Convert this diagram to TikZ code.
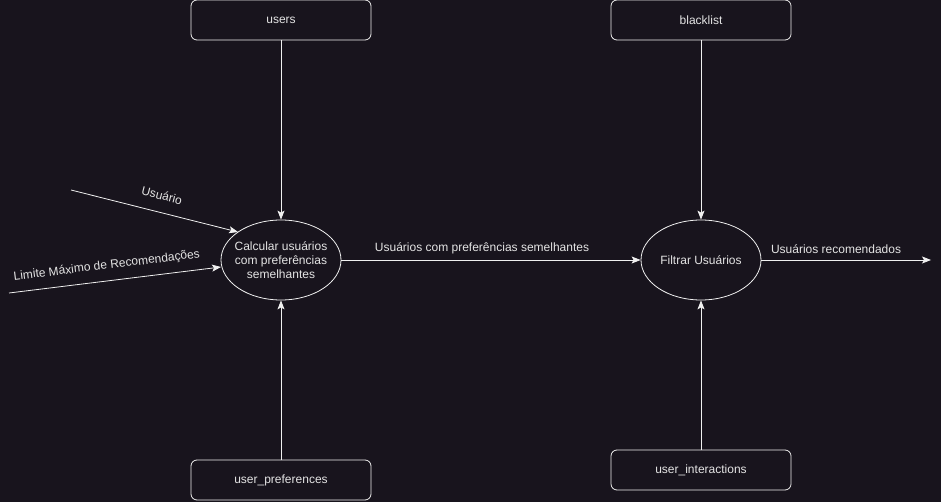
\documentclass[tikz,border=0pt]{standalone}
\usepackage{fontspec}
\setmainfont{Liberation Sans}
\usetikzlibrary{arrows.meta,shapes.geometric}
\definecolor{bgc}{RGB}{24,20,29}
\definecolor{txt}{RGB}{228,228,228}
\definecolor{ln}{RGB}{240,240,240}
\begin{document}
\begin{tikzpicture}[x=1pt,y=-1pt,
  font=\fontsize{12}{14}\selectfont,
  store/.style={draw=ln,line width=0.8pt,rounded corners=6pt,minimum width=180pt,minimum height=40pt,text=txt,inner sep=0pt},
  proc/.style={draw=ln,line width=0.8pt,ellipse,minimum width=120pt,minimum height=80pt,text=txt,inner xsep=-4pt,inner ysep=0pt,align=center},
  flow/.style={draw=ln,line width=0.8pt,-{Stealth[length=9pt,width=7pt,inset=2pt]}},
  lbl/.style={text=txt,inner sep=0pt}]
\fill[bgc] (0,0) rectangle (941,502);
\useasboundingbox (0,0) rectangle (941,502);
\node[store] (users) at (281,20) {users};
\node[store] (black) at (701,20) {blacklist};
\node[store] (prefs) at (281,480) {user\_preferences};
\node[store] (inter) at (701,470) {user\_interactions};
\node[proc] (calc) at (281,260) {Calcular usuários\\com preferências\\semelhantes};
\node[proc] (filt) at (701,260) {Filtrar Usuários};
\coordinate (uin) at (71,190);
\coordinate (uend) at (238,232);
\coordinate (lin) at (9,293);
\coordinate (lend) at (221,267);
\coordinate (out) at (931,260);
\draw[flow] (users) -- (calc);
\draw[flow] (prefs) -- (calc);
\draw[flow] (black) -- (filt);
\draw[flow] (inter) -- (filt);
\draw[flow] (uin) -- node[lbl,sloped,above=12pt,pos=0.52] {Usuário} (uend);
\draw[flow] (lin) -- node[lbl,sloped,above=9pt,pos=0.47] {Limite Máximo de Recomendações} (lend);
\draw[flow] (calc) -- node[lbl,above=6pt,pos=0.47] {Usuários com preferências semelhantes} (filt);
\draw[flow] (filt) -- node[lbl,above=6pt,pos=0.44] {Usuários recomendados} (out);
\end{tikzpicture}
\end{document}
